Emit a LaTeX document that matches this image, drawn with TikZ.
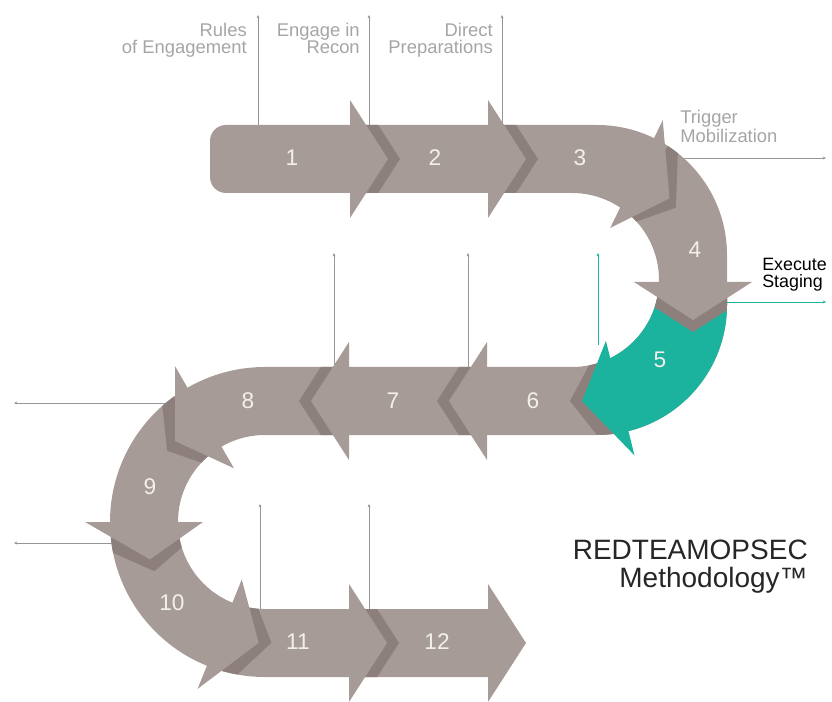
\documentclass[tikz,border=0pt]{standalone}
\usepackage{fontspec}
\setmainfont{Liberation Sans}
\usetikzlibrary{calc,arrows.meta}

\definecolor{taupe}{RGB}{167,155,152}
\definecolor{taupedark}{RGB}{141,127,123}
\definecolor{tealstep}{RGB}{27,178,158}
\definecolor{leadgray}{RGB}{150,150,150}
\definecolor{labgray}{RGB}{165,165,165}
\definecolor{numwhite}{RGB}{243,239,237}

\tikzset{
  bandshape/.style={insert path={(300,125) -- (597,125) arc(-90:0:130)
      -- (727,305) arc(0:90:130) -- (265,435) arc(-90:-270:87) -- (488,609)
      -- (488,677) -- (265,677) arc(90:270:155) -- (572,367) arc(90:-90:87)
      -- (300,193) [rounded corners=12] -- (210,193) -- (210,125) -- cycle}},
  band/.style={fill=taupe},
  num/.style={text=numwhite,font=\fontsize{17}{17}\selectfont},
  lab/.style={text=labgray,font=\fontsize{13.8}{12.6}\selectfont,inner sep=0pt,align=right},
  lead/.style={draw=leadgray,line width=0.6pt,-{Stealth[length=2.5pt,width=2.2pt]}},
}

\begin{document}
\begin{tikzpicture}[x=0.75pt,y=-0.75pt]
\useasboundingbox (0,0) rectangle (832,702);
\coordinate (Ra) at (597,255);
\coordinate (Rb) at (597,305);
\coordinate (Rc) at (572,280);
\coordinate (L) at (265,522);

\coordinate (P1) at (258,130); \coordinate (Q1) at (258,15);
\coordinate (P2) at (369,130); \coordinate (Q2) at (369,15);
\coordinate (P3) at (502,130); \coordinate (Q3) at (502,15);
\coordinate (P4) at (675,158); \coordinate (Q4) at (826,158);
\coordinate (P5) at (722,302); \coordinate (Q5) at (826,302);
\coordinate (P6) at (598,345); \coordinate (Q6) at (598,253);
\coordinate (P7) at (468,372); \coordinate (Q7) at (468,253);
\coordinate (P8) at (334,372); \coordinate (Q8) at (334,253);
\coordinate (P9) at (170,403); \coordinate (Q9) at (14,403);
\coordinate (P10) at (116,543); \coordinate (Q10) at (14,543);
\coordinate (P11) at (260,612); \coordinate (Q11) at (260,504);
\coordinate (P12) at (369,612); \coordinate (Q12) at (369,504);

\foreach \i in {1,2,3,4,7,8,9,10,11,12}
  \draw[lead] (P\i) -- (Q\i);
\draw[lead,draw=tealstep] (P5) -- (Q5);
\draw[lead,draw=tealstep] (P6) -- (Q6);

\fill[band][bandshape];
\fill[tealstep] (659,283) -- (727,283) -- (727,305) arc(0:80:130)
  -- ($(Rc)+(67:87)$) arc(67:1:87) -- cycle;

\begin{scope}
  \clip[bandshape];
  \foreach \b/\c/\d in {350/159/1, 488/159/1, 487/401/-1, 349/401/-1, 349/643/1}
    \fill[taupedark] (\b+12*\d,\c-59) -- (\b+50*\d,\c) -- (\b+12*\d,\c+59) -- cycle;
  \foreach \a/\t in {240/222, 180/162, 112/93}
    \fill[taupedark] ($(L)+(\a-6:62)$) -- ($(L)+(\t-6:121)$) -- ($(L)+(\a-6:180)$) -- cycle;
  \fill[taupedark] ($(Ra)+(-57:30)$) -- ($(Ra)+(-31:92)$) -- ($(Ra)+(-57:150)$) -- cycle;
  \fill[taupedark] (634,294) -- (693,332) -- (752,294) -- cycle;
  \fill[taupedark] ($(Rb)+(83:37)$) -- (570,401) -- ($(Rb)+(83:155)$) -- cycle;
\end{scope}

\foreach \b/\c/\d in {350/159/1, 488/159/1, 487/401/-1, 349/401/-1, 349/643/1, 488/643/1}
  \fill[band] (\b,\c-59) -- (\b+38*\d,\c) -- (\b,\c+59) -- cycle;
\foreach \a/\t in {240/222, 180/162, 112/93}
  \fill[band] ($(L)+(\a:62)$) -- ($(L)+(\t:121)$) -- ($(L)+(\a:180)$) -- cycle;
\fill[band] ($(Ra)+(-64:30)$) -- ($(Ra)+(-38:92)$) -- ($(Ra)+(-64:150)$) -- cycle;
\fill[band] (634,282) -- (693,320) -- (752,282) -- cycle;
\fill[tealstep] ($(Rb)+(76:37)$) -- (582,401) -- ($(Rb)+(76:155)$) -- cycle;

\node[num] (n1) at (292,158) {1};
\node[num] (n2) at (435,158) {2};
\node[num] (n3) at (580,158) {3};
\node[num] (n4) at (695,250) {4};
\node[num] (n5) at (660,360) {5};
\node[num] (n6) at (533,401) {6};
\node[num] (n7) at (393,401) {7};
\node[num] (n8) at (248,401) {8};
\node[num] (n9) at (150,487) {9};
\node[num] (n10) at (172,603) {10};
\node[num] (n11) at (298,642) {11};
\node[num] (n12) at (437,642) {12};

\node[lab,anchor=north east] (roe) at (247,23) {Rules\\of Engagement};
\node[lab,anchor=north east] (eir) at (360,23) {Engage in\\Recon};
\node[lab,anchor=north east] (dp) at (493,23) {Direct\\Preparations};
\node[lab,anchor=north west,align=left] (tm) at (680,110) {Trigger\\Mobilization};
\node[lab,anchor=north west,align=left,text=black,font=\fontsize{13.4}{13}\selectfont]
  (es) at (762,258) {Execute\\Staging};
\node[inner sep=0pt,anchor=north east,align=right,text=black!85,
  font=\fontsize{21}{21}\selectfont] (title) at (808,540) {REDTEAMOPSEC\\Methodology™};
\end{tikzpicture}
\end{document}
